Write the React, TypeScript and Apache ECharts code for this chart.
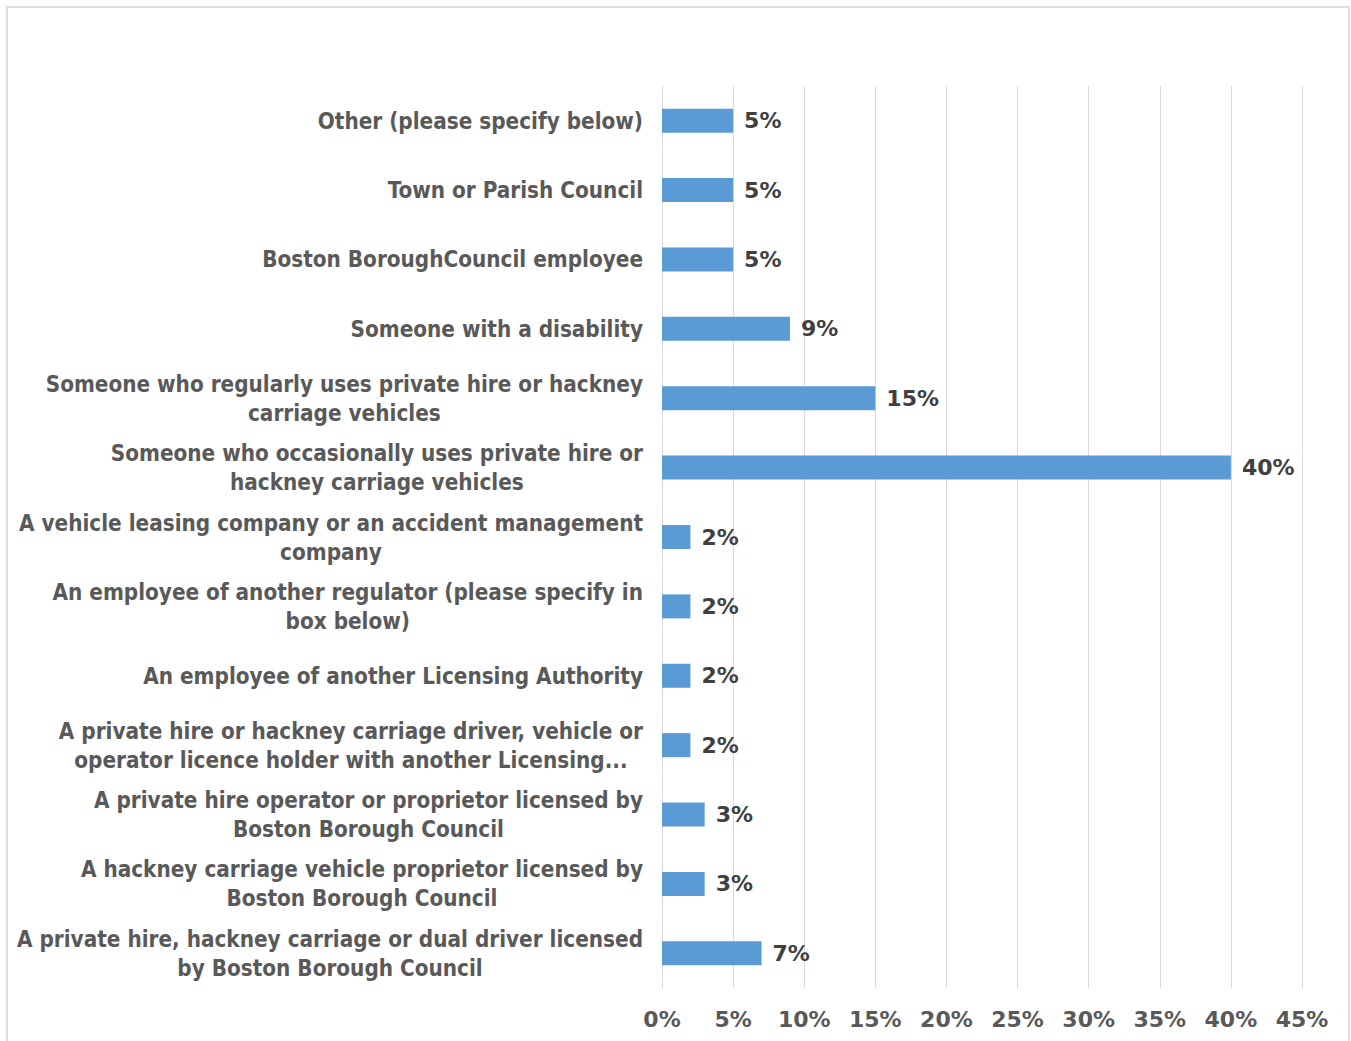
import React, { useEffect, useRef } from "react";
import * as echarts from "echarts";

const categories = [
  "A private hire, hackney carriage or dual driver licensed\nby Boston Borough Council",
  "A hackney carriage vehicle proprietor licensed by\nBoston Borough Council",
  "A private hire operator or proprietor licensed by\nBoston Borough Council",
  "A private hire or hackney carriage driver, vehicle or\noperator licence holder with another Licensing...",
  "An employee of another Licensing Authority",
  "An employee of another regulator (please specify in\nbox below)",
  "A vehicle leasing company or an accident management\ncompany",
  "Someone who occasionally uses private hire or\nhackney carriage vehicles",
  "Someone who regularly uses private hire or hackney\ncarriage vehicles",
  "Someone with a disability",
  "Boston BoroughCouncil employee",
  "Town or Parish Council",
  "Other (please specify below)",
];
const values = [7, 3, 3, 2, 2, 2, 2, 40, 15, 9, 5, 5, 5];
const xTicks = { min: 0, max: 45, interval: 5 };

const CAT_FONT = "DejaVu Sans Condensed";
const NUM_FONT = "DejaVu Sans";

export default function App() {
  const ref = useRef<HTMLDivElement>(null);
  useEffect(() => {
    document.body.style.margin = "0";
    const chart = echarts.init(ref.current!, null, { renderer: "svg" });
    chart.setOption({
      animation: false,
      graphic: [
        {
          type: "rect",
          shape: { x: 7, y: 7, width: 1342, height: 1060 },
          style: { fill: "none", stroke: "#dedede", lineWidth: 2 },
        },
      ],
      grid: { left: 662, right: 49, top: 86, bottom: 53, containLabel: false },
      xAxis: {
        type: "value",
        min: xTicks.min,
        max: xTicks.max,
        interval: xTicks.interval,
        axisLine: { show: false },
        axisTick: { show: false },
        splitLine: { lineStyle: { color: "#d9d9d9", width: 1 } },
        axisLabel: {
          formatter: "{value}%",
          color: "#595959",
          fontFamily: NUM_FONT,
          fontWeight: "bold",
          fontSize: 22,
          margin: 20,
        },
      },
      yAxis: {
        type: "category",
        data: categories,
        axisLine: { show: true, lineStyle: { color: "#d9d9d9" } },
        axisTick: { show: false },
        axisLabel: {
          margin: 19,
          align: "right",
          formatter: (v: string) =>
            v
              .split("\n")
              .map((l) => "{c|" + l + "}")
              .join("\n"),
          rich: {
            c: {
              align: "center",
              color: "#595959",
              fontFamily: CAT_FONT,
              fontWeight: "bold",
              fontSize: 22.3,
              lineHeight: 29,
            },
          },
        },
      },
      series: [
        {
          type: "bar",
          data: values,
          barWidth: 24,
          itemStyle: { color: "#5b9bd5" },
          label: {
            show: true,
            position: "right",
            distance: 11,
            formatter: "{c}%",
            color: "#404040",
            fontFamily: NUM_FONT,
            fontWeight: "bold",
            fontSize: 22,
          },
        },
      ],
    });
    return () => chart.dispose();
  }, []);
  return <div ref={ref} style={{ width: 1351, height: 1041 }} />;
}
